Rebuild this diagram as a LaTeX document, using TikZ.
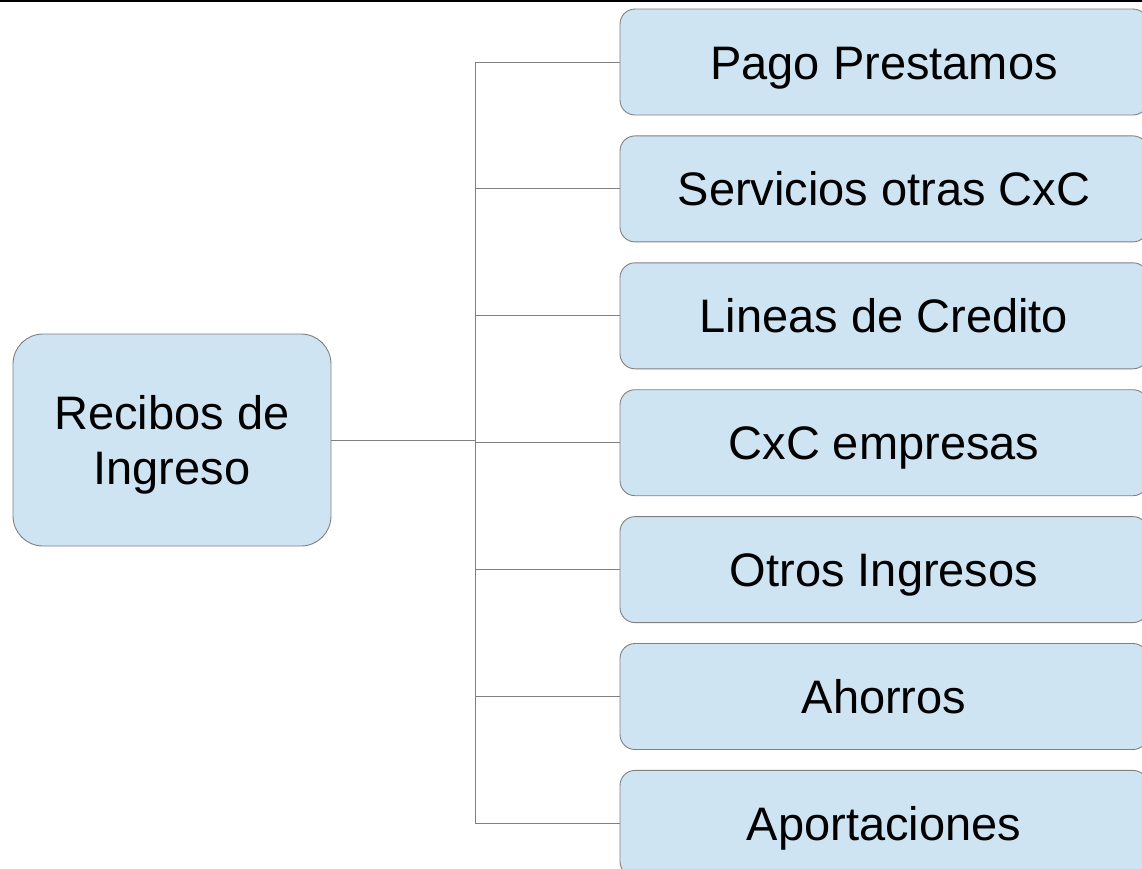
\documentclass[tikz,border=0pt]{standalone}
\usepackage{fontspec}
\setmainfont{Liberation Sans}
\usepackage{tikz}
\usetikzlibrary{positioning}
\definecolor{boxfill}{RGB}{207,228,243}
\definecolor{boxline}{RGB}{128,128,128}
\tikzset{
    caja/.style={draw=boxline, fill=boxfill, line width=0.9pt, inner sep=0pt,
        text depth=0pt, font=\fontsize{47}{55}\selectfont},
    cuenta/.style={caja, rounded corners=15pt, minimum width=528pt, minimum height=106pt,
        text height=34pt},
    raiz/.style={caja, rounded corners=30pt, minimum width=318pt, minimum height=212pt, align=center},
    elbow/.style={to path={|- (\tikztotarget)}}
}
\begin{document}
\begin{tikzpicture}[x=1pt, y=-1pt]
    \useasboundingbox (0,0) rectangle (1142,868);
    \clip (0,0) rectangle (1142,868);
    \node[raiz] (recibos) at (172,440) {Recibos de\\Ingreso};
    \node[cuenta] (pago) at (884,62) {Pago Prestamos};
    \node[cuenta, below=20pt of pago] (servicios) {Servicios otras CxC};
    \node[cuenta, below=20pt of servicios] (lineas) {Lineas de Credito};
    \node[cuenta, below=20pt of lineas] (empresas) {CxC empresas};
    \node[cuenta, below=20pt of empresas] (otros) {Otros Ingresos};
    \node[cuenta, below=20pt of otros] (ahorros) {Ahorros};
    \node[cuenta, below=20pt of ahorros] (aportes) {Aportaciones};
    \coordinate (hub) at (475,440);
    \path[draw=boxline, line width=0.9pt]
        (recibos) edge (hub)
        (hub) edge[elbow] (pago.west)
        (hub) edge[elbow] (servicios.west)
        (hub) edge[elbow] (lineas.west)
        (hub) edge[elbow] (empresas.west)
        (hub) edge[elbow] (otros.west)
        (hub) edge[elbow] (ahorros.west)
        (hub) edge[elbow] (aportes.west);
    \draw[line width=2.5pt] (0,1) -- (1142,1);
\end{tikzpicture}
\end{document}
